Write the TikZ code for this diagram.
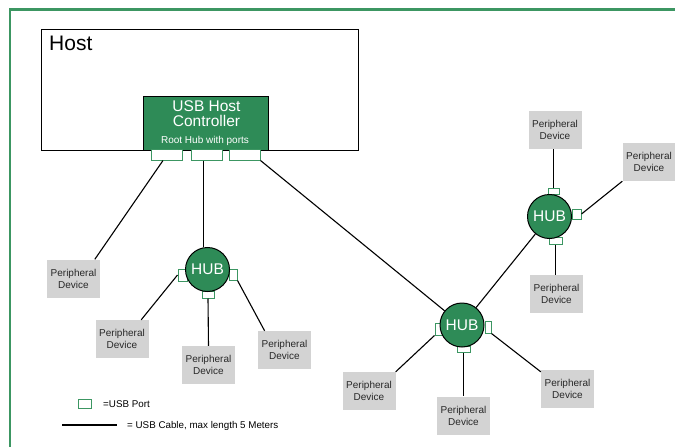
\documentclass[tikz,border=0pt]{standalone}
\usepackage{fontspec}
\setmainfont{Liberation Sans}
\usetikzlibrary{calc}
\definecolor{framegreen}{RGB}{60,150,98}
\definecolor{hubgreen}{RGB}{46,139,87}
\definecolor{devgray}{RGB}{211,211,211}
\definecolor{devtext}{RGB}{40,40,40}
\begin{document}
\begin{tikzpicture}[x=1pt,y=-1pt,
  dev/.style={rectangle,fill=devgray,minimum width=53pt,minimum height=38pt,inner sep=0pt,align=center,text=devtext,font=\fontsize{10}{12}\selectfont},
  hub/.style={circle,fill=hubgreen,draw=black,line width=1pt,minimum size=44pt,inner sep=0pt,text=white,font=\fontsize{15.5}{17}\selectfont},
  port/.style={rectangle,draw=framegreen,fill=white,line width=1pt,inner sep=0pt},
  cable/.style={draw=black,line width=1.1pt},
  ctltext/.style={anchor=base,text=white,inner sep=0pt},
  legtext/.style={anchor=base west,inner sep=0pt,text=black,font=\fontsize{9.8}{11}\selectfont}]
\useasboundingbox (0,0) rectangle (675,447);
% frame
\draw[framegreen,line width=2.5pt] (675,9.5) -- (10,9.5) -- (10,447);
% host
\node[draw=black,line width=1pt,minimum width=317pt,minimum height=121pt,anchor=north west,inner sep=0pt] (host) at (41,29) {};
\node[anchor=base west,inner sep=0pt,font=\fontsize{21}{24}\selectfont] (hostlbl) at (49,50.7) {Host};
% controller
\node[draw=black,fill=hubgreen,line width=1pt,minimum width=125pt,minimum height=54pt,anchor=north west,inner sep=0pt] (ctl) at (143,96) {};
\node[ctltext,font=\fontsize{15.5}{17}\selectfont] (ctl1) at (206.5,111.7) {USB Host};
\node[ctltext,font=\fontsize{15.5}{17}\selectfont] (ctl2) at (206.5,126.7) {Controller};
\node[ctltext,font=\fontsize{10}{12}\selectfont] (ctl3) at (205,143.3) {Root Hub with ports};
% root ports
\node[port,minimum width=31pt,minimum height=11pt] (p1) at (166.5,154.5) {};
\node[port,minimum width=31pt,minimum height=11pt] (p2) at (206.5,154.5) {};
\node[port,minimum width=31pt,minimum height=11pt] (p3) at (244.5,154.5) {};
% hub ports
\node[port,minimum width=9pt,minimum height=12pt] (q1l) at (182.5,275) {};
\node[port,minimum width=8pt,minimum height=11pt] (q1r) at (233,274.5) {};
\node[port,minimum width=12pt,minimum height=7pt] (q1b) at (208,294.5) {};
\node[port,minimum width=7pt,minimum height=12pt] (q2l) at (438.5,329) {};
\node[port,minimum width=6pt,minimum height=12pt] (q2r) at (488,327) {};
\node[port,minimum width=13pt,minimum height=6pt] (q2b) at (463.5,349) {};
\node[port,minimum width=11pt,minimum height=6pt] (q3t) at (553.5,191) {};
\node[port,minimum width=9pt,minimum height=10pt] (q3r) at (576.5,214) {};
\node[port,minimum width=13pt,minimum height=7pt] (q3b) at (555.5,240.5) {};
% hubs
\node[hub] (hub1) at (207.5,269.5) {HUB};
\node[hub] (hub2) at (462,325) {HUB};
\node[hub] (hub3) at (549.5,216.5) {HUB};
% devices
\node[dev] (d0) at (73.5,278.5) {Peripheral\\Device};
\node[dev] (d1) at (122,339) {Peripheral\\Device};
\node[dev] (d2) at (208.5,365) {Peripheral\\Device};
\node[dev] (d3) at (284.5,350) {Peripheral\\Device};
\node[dev] (d4) at (369,391) {Peripheral\\Device};
\node[dev] (d5) at (463.5,415.5) {Peripheral\\Device};
\node[dev] (d6) at (567.5,388.5) {Peripheral\\Device};
\node[dev] (d7) at (555,130) {Peripheral\\Device};
\node[dev] (d8) at (649,162) {Peripheral\\Device};
\node[dev] (d9) at (556.5,294) {Peripheral\\Device};
% cables
\draw[cable] ($(p1.south)+(-3.5,0)$) -- (d0.42);
\draw[cable] (p2.south -| hub1.100) -- (hub1.100);
\draw[cable] (p3.south east) -- (hub2);
\draw[cable] (q1l.west) -- (d1.45);
\draw[cable] (q1b.south) -- (d2.north);
\draw[cable] (q1r.south east) -- (d3.136);
\draw[cable] (q2l.south west) -- (d4.north east);
\draw[cable] (q2b.south) -- (d5.north);
\draw[cable] (q2r.south east) -- (d6.148);
\draw[cable] (hub2) -- (hub3);
\draw[cable] (d7.south -| q3t.north) -- (q3t.north);
\draw[cable] (q3r.east) -- (d8.south west);
\draw[cable] (q3b.south) -- (q3b.south |- d9.north);
% legend
\node[port,minimum width=13pt,minimum height=9pt] (lp) at (84.5,403.5) {};
\node[legtext] (lpt) at (103,407.5) {=USB Port};
\coordinate (lc1) at (62,425);
\coordinate (lc2) at (117,425);
\draw[line width=2.2pt] (lc1) -- (lc2);
\node[legtext] (lct) at (127,428.5) {= USB Cable, max length 5 Meters};
\end{tikzpicture}
\end{document}
